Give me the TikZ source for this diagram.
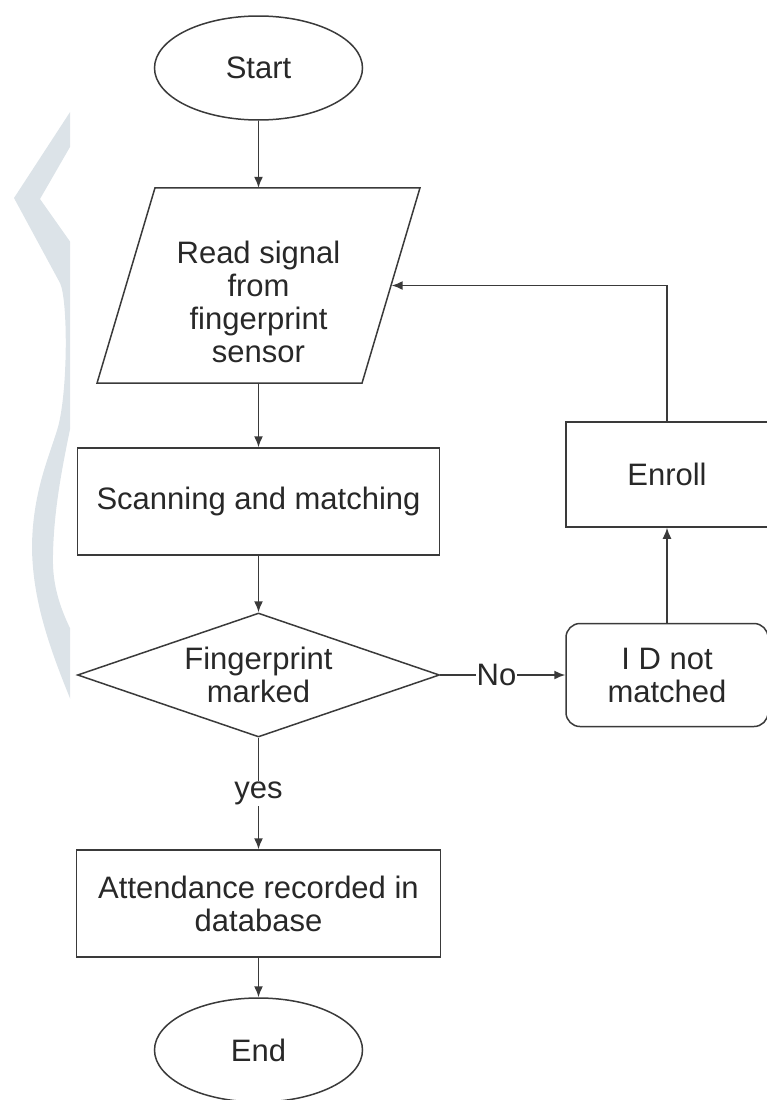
\documentclass[tikz,border=0pt]{standalone}
\usepackage{fontspec}
\setmainfont{Liberation Sans}
\usetikzlibrary{shapes.geometric,arrows.meta}
\definecolor{linec}{RGB}{58,58,58}
\definecolor{textc}{RGB}{40,40,40}
\definecolor{wmark}{RGB}{220,227,232}
\begin{document}
\begin{tikzpicture}[x=1pt,y=-1pt,
  every node/.style={font=\fontsize{31}{33}\selectfont, text=textc, align=center},
  box/.style={draw=linec, line width=1.5pt, rectangle, inner sep=0pt},
  term/.style={draw=linec, line width=1.5pt, ellipse, minimum width=208pt, minimum height=104pt, inner sep=0pt},
  paraframe/.style={draw=linec, line width=1.5pt, line join=miter},
  dia/.style={draw=linec, line width=1.5pt, diamond, aspect=2.92, minimum width=362pt, minimum height=124pt, inner sep=0pt},
  arr/.style={draw=linec, line width=1.5pt, -{Latex[length=11pt,width=9pt]}},
  lbl/.style={fill=white, inner sep=1pt}
]
\useasboundingbox (0,0) rectangle (767,1100);
\clip (0,0) rectangle (767,1100);
% watermark band
\begin{scope}
\clip (0,100) rectangle (70,740);
\fill[wmark] (74,106) -- (14,198) -- (60,283) .. controls (68,300) and (68,390) .. (58,427) .. controls (50,455) and (33,490) .. (32,545) .. controls (32,600) and (50,650) .. (74,708) -- (76,640) .. controls (60,610) and (52,585) .. (53,555) .. controls (54,500) and (66,450) .. (76,400) -- (76,250) -- (40,199) -- (74,140) -- cycle;
\end{scope}
% nodes
\node[term] (start) at (258.5,68) {Start};
\node[minimum width=266pt, minimum height=195pt, inner sep=0pt] (read) at (258.5,285.5) {};
\draw[paraframe] ([xshift=-103.5pt]read.north) -- ([xshift=161.5pt]read.north) -- ([xshift=103.5pt]read.south) -- ([xshift=-161.5pt]read.south) -- cycle;
\node (readtxt) at (258.5,302) {Read signal\\from\\fingerprint\\sensor};
\node[box, minimum width=362pt, minimum height=107pt] (scan) at (258.5,501.5) {Scanning and matching};
\node[dia] (dec) at (258.5,675) {Fingerprint\\marked};
\node[box, rounded corners=14pt, minimum width=202pt, minimum height=103pt] (idnm) at (667,675) {I D not\\matched};
\node[box, minimum width=202pt, minimum height=105pt] (enroll) at (667,474.5) {Enroll};
\node[box, minimum width=364pt, minimum height=107pt] (att) at (258.5,903.5) {Attendance recorded in\\database};
\node[term] (end) at (258.5,1050) {End};
% connectors
\draw[arr] (start) -- (read);
\draw[arr] (read) -- (scan);
\draw[arr] (scan) -- (dec);
\draw[arr] (dec) -- node[lbl, pos=0.45]{No} (idnm);
\draw[arr] (idnm) -- (enroll);
\draw[arr] (enroll.north) |- (read.east);
\draw[arr] (dec) -- node[lbl]{yes} (att);
\draw[arr] (att) -- (end);
\end{tikzpicture}
\end{document}
